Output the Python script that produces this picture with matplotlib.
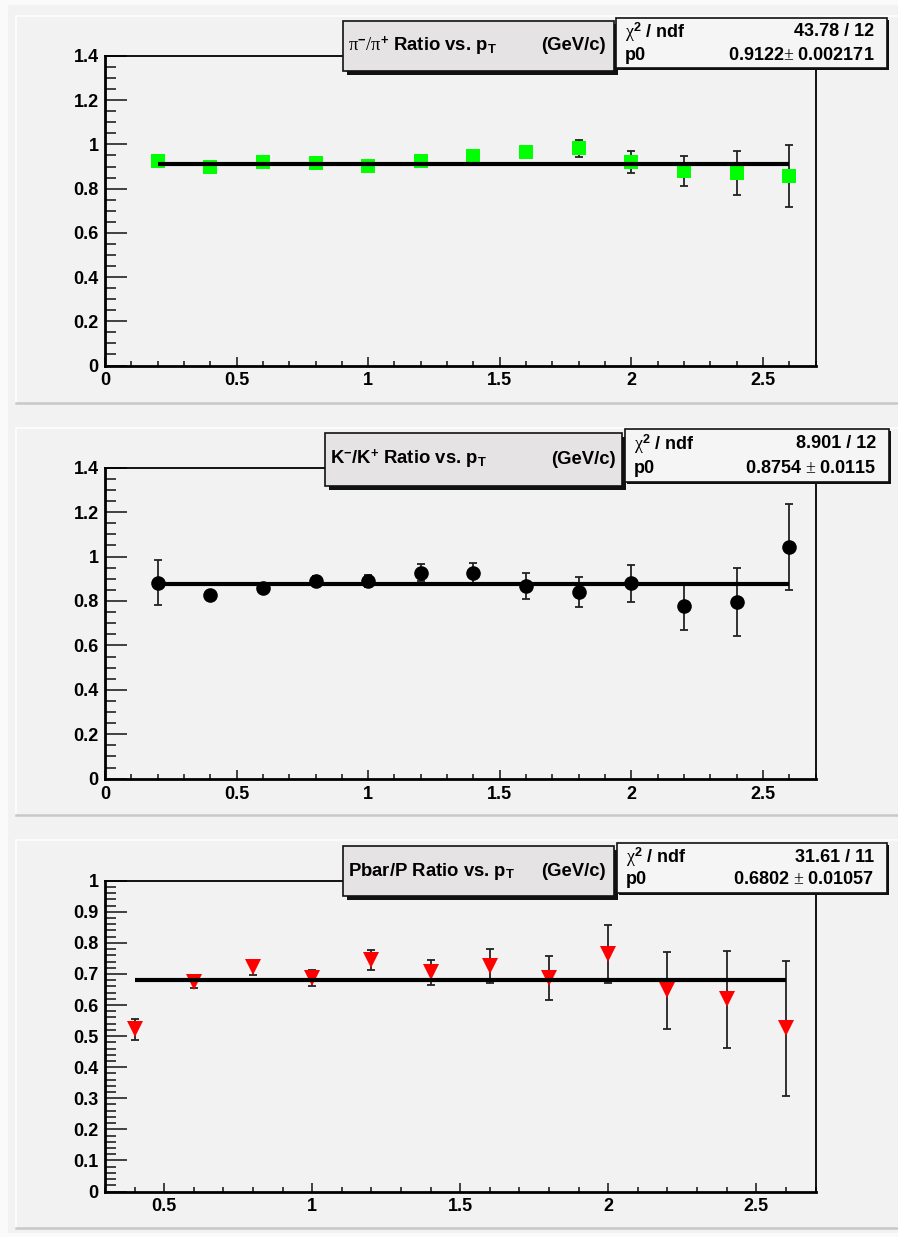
import matplotlib
matplotlib.use("Agg")
import matplotlib.pyplot as plt
from matplotlib.patches import Rectangle
from matplotlib.lines import Line2D
from matplotlib.ticker import MultipleLocator, FuncFormatter

plt.rcParams['font.family'] = ['Liberation Sans', 'DejaVu Sans']
plt.rcParams['mathtext.fontset'] = 'custom'
plt.rcParams['mathtext.rm'] = 'Liberation Serif'
plt.rcParams['mathtext.it'] = 'Liberation Serif:italic'
plt.rcParams['mathtext.bf'] = 'Liberation Sans:bold'

# ---------------- data ----------------
pt_pi = [0.2, 0.4, 0.6, 0.8, 1.0, 1.2, 1.4, 1.6, 1.8, 2.0, 2.2, 2.4, 2.6]
ratio_pi = [0.926, 0.898, 0.920, 0.914, 0.904, 0.924, 0.949, 0.967, 0.982, 0.922, 0.880, 0.869, 0.857]
err_pi = [0.006, 0.006, 0.007, 0.008, 0.009, 0.011, 0.014, 0.022, 0.038, 0.050, 0.067, 0.100, 0.140]
fit_pi = 0.9122

pt_k = [0.2, 0.4, 0.6, 0.8, 1.0, 1.2, 1.4, 1.6, 1.8, 2.0, 2.2, 2.4, 2.6]
ratio_k = [0.883, 0.827, 0.860, 0.892, 0.890, 0.928, 0.928, 0.868, 0.841, 0.880, 0.776, 0.796, 1.043]
err_k = [0.103, 0.015, 0.018, 0.020, 0.025, 0.037, 0.045, 0.059, 0.067, 0.084, 0.107, 0.152, 0.195]
fit_k = 0.8754

pt_p = [0.4, 0.6, 0.8, 1.0, 1.2, 1.4, 1.6, 1.8, 2.0, 2.2, 2.4, 2.6]
ratio_p = [0.522, 0.675, 0.721, 0.687, 0.745, 0.706, 0.725, 0.687, 0.764, 0.648, 0.618, 0.525]
err_p = [0.033, 0.020, 0.023, 0.025, 0.033, 0.040, 0.055, 0.070, 0.092, 0.124, 0.156, 0.217]
fit_p = 0.6802

titles = [r"$\mathrm{\pi}^{\mathbf{-}}/\mathrm{\pi}^{\mathbf{+}}$ Ratio vs. p$_{\mathbf{T}}$",
          r"K$^{\mathbf{-}}$/K$^{\mathbf{+}}$ Ratio vs. p$_{\mathbf{T}}$",
          r"Pbar/P Ratio vs. p$_{\mathbf{T}}$"]
unit_label = "(GeV/c)"
chi2_labels = ["43.78 / 12", "8.901 / 12", "31.61 / 11"]
p0_labels = ["0.9122$\\pm$ 0.002171", "0.8754 $\\pm$ 0.0115", "0.6802 $\\pm$ 0.01057"]

W, H = 898, 1237
fig = plt.figure(figsize=(W / 100, H / 100), dpi=100)
fig.patch.set_facecolor('#f2f2f2')

def fx(x):
    return x / W

def fy(y):
    return 1 - y / H

def hline(x0, x1, y, color, lw=1.0):
    fig.add_artist(Line2D([fx(x0), fx(x1)], [fy(y), fy(y)], transform=fig.transFigure,
                          color=color, lw=lw))

def vline(x, y0, y1, color, lw=1.0):
    fig.add_artist(Line2D([fx(x), fx(x)], [fy(y0), fy(y1)], transform=fig.transFigure,
                          color=color, lw=lw))

# canvas border
fig.add_artist(Rectangle((0, 0), 1, 1, transform=fig.transFigure, facecolor='#fafafa',
                         edgecolor='none', zorder=-10))
fig.add_artist(Rectangle((fx(8), fy(1233)), fx(898 - 8), (1233 - 5) / H,
                         transform=fig.transFigure, facecolor='#f2f2f2', edgecolor='none', zorder=-9))

# pads
pads = [(16, 403), (428, 815), (840, 1228)]
for (t, b) in pads:
    hline(16, 898, t, '#fbfbfb', 1.5)
    vline(16, t, b, '#fbfbfb', 1.5)
    hline(16, 898, b, '#c8c8c8', 1.8)

# axes geometry in pixels (left, right, top, bottom)
ax_px = [(105, 815.5, 56, 365.5), (105, 815.5, 467.7, 778.7), (105, 815.5, 880.7, 1191.5)]
axes = []
for (l, r, t, b) in ax_px:
    ax = fig.add_axes([fx(l), fy(b), (r - l) / W, (b - t) / H])
    ax.set_facecolor('none')
    axes.append(ax)

def fmt(v, pos):
    return "%g" % round(v, 3)

datasets = [
    (pt_pi, ratio_pi, err_pi, fit_pi, 's', '#00ff00', 10.0, (0, 2.7), (0, 1.4), 0.2, 0.05),
    (pt_k, ratio_k, err_k, fit_k, 'o', 'black', 10.5, (0, 2.7), (0, 1.4), 0.2, 0.05),
    (pt_p, ratio_p, err_p, fit_p, 'v', '#ff0000', 12.0, (0.3, 2.7), (0, 1.0), 0.1, 0.02),
]

for ax, (x, y, e, fitv, mk, col, ms, xl, yl, ymaj, ymin) in zip(axes, datasets):
    ax.errorbar(x, y, yerr=e, fmt='none', ecolor='#222222', elinewidth=1.3,
                capsize=3.0, capthick=1.3, zorder=3)
    ax.plot(x, y, linestyle='none', marker=mk, color=col, markersize=ms,
            markeredgewidth=0, zorder=4)
    ax.plot([x[0], x[-1]], [fitv, fitv], color='black', lw=3.0, solid_capstyle='butt', zorder=5)
    ax.set_xlim(*xl)
    ax.set_ylim(*yl)
    ax.xaxis.set_major_locator(MultipleLocator(0.5))
    ax.xaxis.set_minor_locator(MultipleLocator(0.1))
    ax.yaxis.set_major_locator(MultipleLocator(ymaj))
    ax.yaxis.set_minor_locator(MultipleLocator(ymin))
    ax.xaxis.set_major_formatter(FuncFormatter(fmt))
    ax.yaxis.set_major_formatter(FuncFormatter(fmt))
    ax.tick_params(axis='y', which='major', direction='in', length=15.6, width=1.3,
                   color='#333333', pad=4.5, labelsize=13)
    ax.tick_params(axis='y', which='minor', direction='in', length=7.9, width=1.3, color='#333333')
    ax.tick_params(axis='x', which='major', direction='in', length=6.5, width=1.3,
                   color='#333333', pad=5, labelsize=13)
    ax.tick_params(axis='x', which='minor', direction='in', length=3.3, width=1.3, color='#333333')
    for lab in ax.get_xticklabels() + ax.get_yticklabels():
        lab.set_fontweight('bold')
    for s in ['left', 'bottom']:
        ax.spines[s].set_linewidth(2.0)
        ax.spines[s].set_color('black')
    for s in ['top', 'right']:
        ax.spines[s].set_linewidth(1.3)
        ax.spines[s].set_color('black')

# title and stat boxes (pixels)
title_boxes = [(343, 614, 21, 71), (325, 622, 433, 486), (343, 614, 846, 896)]
title_text_x = [348, 330, 348]
title_unit_x = [606, 616, 606]
stat_boxes = [(616, 887, 18, 68), (625, 889, 429, 482), (617, 887, 843, 893)]

def box(l, r, t, b, face, shadow=3.5, edge_lw=1.2):
    fig.add_artist(Rectangle((fx(l + shadow), fy(b + shadow)), (r - l) / W, (b - t) / H,
                             transform=fig.transFigure, facecolor='#111111',
                             edgecolor='none', zorder=10))
    fig.add_artist(Rectangle((fx(l), fy(b)), (r - l) / W, (b - t) / H,
                             transform=fig.transFigure, facecolor=face,
                             edgecolor='#111111', lw=edge_lw, zorder=11))

for i in range(3):
    l, r, t, b = title_boxes[i]
    box(l, r, t, b, '#e5e3e3', shadow=3.5)
    cy = (t + b) / 2
    fig.text(fx(title_text_x[i]), fy(cy), titles[i], fontsize=13.3, fontweight='bold',
             ha='left', va='center', zorder=12)
    fig.text(fx(title_unit_x[i]), fy(cy), unit_label, fontsize=13.3, fontweight='bold',
             ha='right', va='center', zorder=12)

    l, r, t, b = stat_boxes[i]
    box(l, r, t, b, '#f5f5f5', shadow=2.0)
    r1 = t + (b - t) * 0.28
    r2 = t + (b - t) * 0.74
    fig.text(fx(l + 9), fy(r1), r"$\mathrm{\chi}^{\mathbf{2}}$ / ndf", fontsize=13,
             fontweight='bold', ha='left', va='center', zorder=12)
    fig.text(fx(r - 13), fy(r1), chi2_labels[i], fontsize=13, fontweight='bold',
             ha='right', va='center', zorder=12)
    fig.text(fx(l + 9), fy(r2), "p0", fontsize=13, fontweight='bold',
             ha='left', va='center', zorder=12)
    fig.text(fx(r - 13), fy(r2), p0_labels[i], fontsize=13, fontweight='bold',
             ha='right', va='center', zorder=12)

fig.savefig("out.png", dpi=100, facecolor=fig.get_facecolor())
